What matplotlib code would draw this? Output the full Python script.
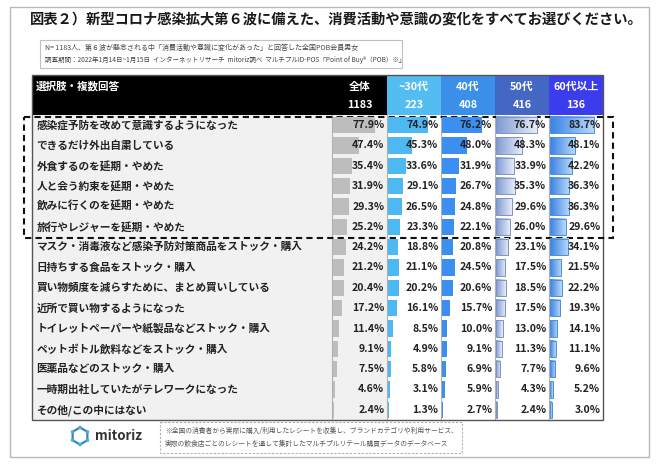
import matplotlib
matplotlib.use("Agg")
import matplotlib.pyplot as plt
import numpy as np
from matplotlib.patches import Rectangle, Circle
from matplotlib.colors import LinearSegmentedColormap

plt.rcParams['font.family'] = ['Noto Sans CJK JP', 'DejaVu Sans']

# ---------------- data ----------------
title = "図表２）新型コロナ感染拡大第６波に備えた、消費活動や意識の変化をすべてお選びください。"
note1 = "N= 1183人、第６波が懸念される中「消費活動や意識に変化があった」と回答した全国POB会員男女"
note2 = "調査期間：2022年1月14日~1月15日  インターネットリサーチ  mitoriz調べ  マルチプルID-POS「Point of Buy®（POB）※」"
foot1 = "※全国の消費者から実際に購入/利用したレシートを収集し、ブランドカテゴリや利用サービス、"
foot2 = "実際の飲食店ごとのレシートを通して集計したマルチプルリテール購買データのデータベース"
header_label = "選択肢・複数回答"

groups = ["全体", "~30代", "40代", "50代", "60代以上"]
group_n = ["1183", "223", "408", "416", "136"]

options = [
    "感染症予防を改めて意識するようになった",
    "できるだけ外出自粛している",
    "外食するのを延期・やめた",
    "人と会う約束を延期・やめた",
    "飲みに行くのを延期・やめた",
    "旅行やレジャーを延期・やめた",
    "マスク・消毒液など感染予防対策商品をストック・購入",
    "日持ちする食品をストック・購入",
    "買い物頻度を減らすために、まとめ買いしている",
    "近所で買い物するようになった",
    "トイレットペーパーや紙製品などストック・購入",
    "ペットボトル飲料などをストック・購入",
    "医薬品などのストック・購入",
    "一時期出社していたがテレワークになった",
    "その他/この中にはない",
]

total = [77.9, 47.4, 35.4, 31.9, 29.3, 25.2, 24.2, 21.2, 20.4, 17.2, 11.4, 9.1, 7.5, 4.6, 2.4]
age_30 = [74.9, 45.3, 33.6, 29.1, 26.5, 23.3, 18.8, 21.1, 20.2, 16.1, 8.5, 4.9, 5.8, 3.1, 1.3]
age_40 = [76.2, 48.0, 31.9, 26.7, 24.8, 22.1, 20.8, 24.5, 20.6, 15.7, 10.0, 9.1, 6.9, 5.9, 2.7]
age_50 = [76.7, 48.3, 33.9, 35.3, 29.6, 26.0, 23.1, 17.5, 18.5, 17.5, 13.0, 11.3, 7.7, 4.3, 2.4]
age_60 = [83.7, 48.1, 42.2, 36.3, 36.3, 29.6, 34.1, 21.5, 22.2, 19.3, 14.1, 11.1, 9.6, 5.2, 3.0]
series = [total, age_30, age_40, age_50, age_60]
highlight_rows = 6

# ---------------- layout ----------------
W, H = 660, 466
fig = plt.figure(figsize=(W / 100, H / 100), dpi=100)
ax0 = fig.add_axes([0, 0, 1, 1])
ax0.set_xlim(0, W)
ax0.set_ylim(H, 0)
ax0.axis('off')

def px_axes(x0, y0, x1, y1):
    return fig.add_axes([x0 / W, 1 - y1 / H, (x1 - x0) / W, (y1 - y0) / H])

# outer frame
ax0.add_patch(Rectangle((10, 7), 639, 450, fill=False, ec='#b8b8b8', lw=1.0))
ax0.text(30, 19, title, fontsize=10.3, fontweight='bold', color='#1a1a1a', va='center', ha='left')

# note box
ax0.add_patch(Rectangle((40, 40), 362, 28, fill=False, ec='#c0c0c0', lw=0.8))
ax0.text(45, 47.5, note1, fontsize=5.0, color='#444444', va='center')
ax0.text(45, 60.5, note2, fontsize=4.7, color='#444444', va='center')

lab_x0, lab_x1 = 32, 332
col_edges = [332, 387, 441, 495, 549, 603]
head_top, head_bot = 75, 115
body_bot = 420
n = len(options)
row_h = (body_bot - head_bot) / n

head_colors = ['#000000', '#53bdf2', '#3b8fe8', '#4467c4', '#3b3cec']
bar_colors = ['#bdbdbd', '#4db9f3', '#3b8ff0', None, None]
grad_50 = LinearSegmentedColormap.from_list('g50', ['#7f9ad2', '#e6ecf8'])
grad_60 = LinearSegmentedColormap.from_list('g60', ['#3a82e4', '#b9daf8'])
grads = [None, None, None, grad_50, grad_60]
grad_edges = [None, None, None, '#7d92c6', '#4d8fdc']

# header
ax0.add_patch(Rectangle((lab_x0, head_top), lab_x1 - lab_x0, head_bot - head_top, color='#000000', lw=0))
ax0.text(36, 86, header_label, fontsize=7.6, color='white', va='center', fontweight='bold')
for j in range(5):
    x0, x1 = col_edges[j], col_edges[j + 1]
    ax0.add_patch(Rectangle((x0, head_top), x1 - x0, head_bot - head_top, color=head_colors[j], lw=0))
    cx = (x0 + x1) / 2
    ax0.text(cx, 87, groups[j], fontsize=7.8, color='white', ha='center', va='center', fontweight='bold')
    ax0.text(cx, 104.5, group_n[j], fontsize=7.8, color='white', ha='center', va='center', fontweight='bold')

# body backgrounds
ax0.add_patch(Rectangle((lab_x0, head_bot), col_edges[1] - lab_x0, body_bot - head_bot, color='#f1f1f1', lw=0))
ax0.add_patch(Rectangle((col_edges[1], head_bot), col_edges[-1] - col_edges[1], body_bot - head_bot, color='white', lw=0))

# labels axes
axl = px_axes(lab_x0, head_bot, lab_x1, body_bot)
axl.set_xlim(0, 1)
axl.set_ylim(n - 0.5, -0.5)
axl.axis('off')
for i, lab in enumerate(options):
    axl.text(0.015, i, lab, fontsize=7.7, color='#222222', va='center', ha='left', fontweight='bold')

# column axes with bars
for j in range(5):
    x0, x1 = col_edges[j], col_edges[j + 1]
    ax = px_axes(x0 + 1, head_bot, x1, body_bot)
    vals = series[j]
    bh = 0.8
    if grads[j] is None:
        ax.barh(range(n), vals, height=bh, color=bar_colors[j], lw=0)
    else:
        grad = np.linspace(0, 1, 64).reshape(1, -1)
        for i, v in enumerate(vals):
            ax.imshow(grad, extent=(0, v, i + bh / 2, i - bh / 2), aspect='auto', cmap=grads[j],
                      interpolation='bilinear', zorder=1)
            ax.add_patch(Rectangle((0, i - bh / 2), v, bh, fill=False, ec=grad_edges[j], lw=0.7, zorder=2))
    for i, v in enumerate(vals):
        ax.text(95, i, f"{v:.1f}%", fontsize=7.6, color='#222222', ha='right', va='center',
                fontweight='bold', zorder=3)
    ax.set_xlim(0, 100)
    ax.set_ylim(n - 0.5, -0.5)
    ax.axis('off')

# separators and border
for x in col_edges[:-1]:
    ax0.plot([x, x], [head_bot, body_bot], color='#b0b0b0', lw=0.8)
ax0.add_patch(Rectangle((lab_x0, head_top), col_edges[-1] - lab_x0, body_bot - head_top, fill=False,
                        ec='#555555', lw=1.0, zorder=5))

# dashed highlight box
ax0.add_patch(Rectangle((24, 117), 589, head_bot + highlight_rows * row_h - 117 + 0.5, fill=False,
                        ec='#111111', lw=1.5, ls=(0, (3, 2)), zorder=6))

# footer logo
cx, cy, r = 80, 436, 8.5
ang = np.deg2rad(np.arange(0, 360, 60) + 30)
hx = cx + r * np.cos(ang)
hy = cy + r * np.sin(ang)
ax0.plot(np.append(hx, hx[0]), np.append(hy, hy[0]), color='#3a7fd0', lw=1.6)
for xx, yy in zip(hx, hy):
    ax0.add_patch(Circle((xx, yy), 1.1, color='#49b3c9', zorder=4))
ax0.text(95, 436, "mitoriz", fontsize=9.5, color='#333333', va='center', ha='left', fontweight='bold')

# footer note
ax0.add_patch(Rectangle((160, 422), 302, 31, fill=False, ec='#b0b0b0', lw=0.8, ls=(0, (2, 1.5))))
ax0.text(165, 430.5, foot1, fontsize=4.9, color='#555555', va='center')
ax0.text(165, 444, foot2, fontsize=4.9, color='#555555', va='center')

fig.savefig("out.png", dpi=100)
